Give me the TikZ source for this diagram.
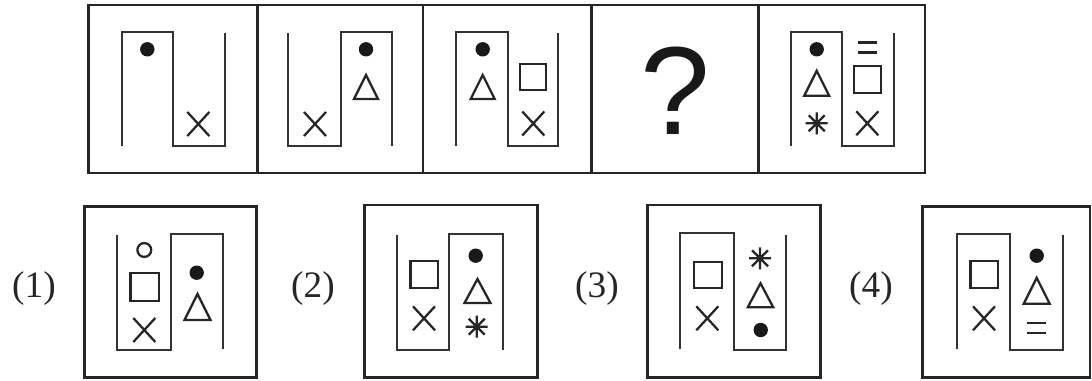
\documentclass[tikz,border=0pt]{standalone}
\usepackage{fontspec}
\setmainfont{Liberation Serif}
\newfontfamily\qfont{Liberation Sans}
\tikzset{
  frame/.style={draw=black!85, line width=2.1pt},
  wall/.style={draw=black!80, line width=1.7pt, line cap=butt, line join=miter},
  shp/.style={draw=black!85, line width=1.7pt},
  lbl/.style={font=\fontsize{28pt}{32pt}\selectfont, text=black!85, inner sep=0pt},
}
\newcommand{\shDot}[2]{\fill[black!90] (#1,#2) circle (5.4pt);}
\newcommand{\shRing}[2]{\draw[shp] (#1,#2) circle (5.2pt);}
\newcommand{\shTri}[4]{\draw[shp, line join=miter, shift={(#1,#2)}] ({-#3/2},{#4/2}) -- (0,{-#4/2}) -- ({#3/2},{#4/2}) -- cycle;}
\newcommand{\shSq}[4]{\draw[shp, shift={(#1,#2)}] ({-#3/2},{-#4/2}) rectangle ({#3/2},{#4/2});}
\newcommand{\shX}[2]{\draw[shp, shift={(#1,#2)}] (-11,-12) -- (11,12) (-11,12) -- (11,-12);}
\newcommand{\shStar}[2]{\draw[shp, line width=1.7pt, shift={(#1,#2)}] (-11,0) -- (11,0) (0,-11) -- (0,11) (-8,-8) -- (8,8) (-8,8) -- (8,-8);}
\newcommand{\shEq}[2]{\draw[shp, line width=1.9pt, shift={(#1,#2)}] (-9.5,-5) -- (9.5,-5) (-9.5,5) -- (9.5,5);}
\begin{document}
\begin{tikzpicture}[x=0.75pt,y=-0.75pt]
\useasboundingbox (0,0) rectangle (1092,381);
% ---------- top row ----------
\draw[frame] (88.5,5) rectangle (925,173);
\foreach \d in {257.7,423,591.7,758.5} \draw[frame] (\d,5) -- (\d,173);
% box 1
\draw[wall] (121.7,145.7) -- (121.7,32.3) -- (173.3,32.3) -- (173.3,145.7) -- (225,145.7) -- (225,33.3);
\shDot{147.3}{49.3}
\shX{198.3}{124}
% box 2
\draw[wall] (288.3,33.3) -- (288.3,145.7) -- (341,145.7) -- (341,32.3) -- (391.7,32.3) -- (391.7,145.7);
\shDot{366}{49.3}
\shTri{366}{87}{24}{24}
\shX{315}{124}
% box 3
\draw[wall] (456,145.7) -- (456,32.3) -- (507.7,32.3) -- (507.7,145.7) -- (558.3,145.7) -- (558.3,33.3);
\shDot{482.7}{49.3}
\shTri{482.7}{87}{24}{24}
\shSq{532.8}{77}{26}{26}
\shX{533.3}{123.5}
% box 4
\node[font=\qfont\fontsize{94pt}{100pt}\selectfont, text=black!90, anchor=base, inner sep=0pt] (q) at (675,135) {?};
% box 5
\draw[wall] (790.7,145.7) -- (790.7,32.3) -- (842.3,32.3) -- (842.3,145.7) -- (894,145.7) -- (894,33.3);
\shDot{816.7}{49.3}
\shTri{816.7}{83.3}{25}{25}
\shStar{816.7}{123.3}
\shEq{867.3}{47.7}
\shSq{867.2}{79.8}{27}{27}
\shX{867.3}{123.3}
% ---------- bottom row ----------
\node[lbl] (l1) at (34,289) {(1)};
\node[lbl] (l2) at (313,289) {(2)};
\node[lbl] (l3) at (597,289) {(3)};
\node[lbl] (l4) at (871,289) {(4)};
% option 1
\draw[frame] (84.3,206.7) rectangle (256.7,377.7);
\draw[wall] (117.3,235) -- (117.3,350) -- (171,350) -- (171,234) -- (223.3,234) -- (223.3,349);
\shRing{144.3}{250}
\shSq{144.7}{287}{28.5}{27.5}
\shX{144.3}{330}
\shDot{196.7}{272.7}
\shTri{197.5}{307}{26}{26}
% option 2
\draw[frame] (364.3,205) rectangle (537.3,377.7);
\draw[wall] (397.3,235) -- (397.3,350) -- (449,350) -- (449,234) -- (503.3,234) -- (503.3,350);
\shSq{424.2}{274.5}{27.5}{27}
\shX{424}{318.3}
\shDot{475.7}{255.7}
\shTri{477.5}{291}{26}{24}
\shStar{476.7}{326.7}
% option 3
\draw[frame] (647.7,205) rectangle (820.7,377.7);
\draw[wall] (680,349.3) -- (680,233.3) -- (734.3,233.3) -- (734.3,350) -- (786,350) -- (786,235);
\shSq{707.7}{275}{28}{26.5}
\shX{707.3}{318.3}
\shStar{760}{258.3}
\shTri{760.5}{295.3}{25.5}{24}
\shDot{760.7}{330}
% option 4
\draw[frame] (922.7,206.7) -- (1090,206.7) -- (1090,377.7) -- (922.7,377.7) -- cycle;
\draw[wall] (957.3,349.3) -- (957.3,234) -- (1010,234) -- (1010,350) -- (1062.7,350) -- (1062.7,235);
\shSq{984.2}{274.5}{27.5}{27}
\shX{984}{318.3}
\shDot{1036.7}{255.7}
\shTri{1036.7}{290.8}{26}{26}
\shEq{1036}{328}
\end{tikzpicture}
\end{document}
